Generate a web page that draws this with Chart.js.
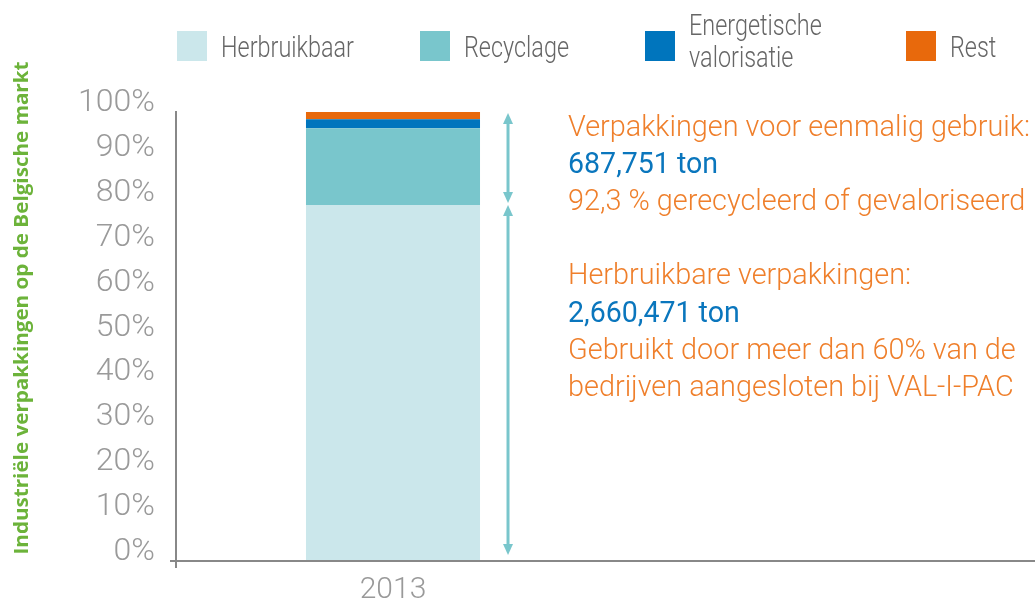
<!DOCTYPE html>
<html>
<head>
<meta charset="utf-8">
<script src="https://cdn.jsdelivr.net/npm/chart.js@4"></script>
<style>
  html, body { margin: 0; padding: 0; background: #fff; overflow: hidden; }
  #wrap { width: 1035px; height: 606px; overflow: hidden; }
</style>
</head>
<body>
<div id="wrap"><canvas id="chart" width="1044" height="606"></canvas></div>
<script>
// data
const years = ['2013', ''];
const seriesNames = ['Herbruikbaar', 'Recyclage', 'Energetische valorisatie', 'Rest'];
const herbruikbaar = [79.3];
const recyclage = [17.1];
const energetisch = [2.0];
const rest = [1.6];
const yTitle = 'Industriële verpakkingen op de Belgische markt';
const notesTop = ['Verpakkingen voor eenmalig gebruik:', '687,751 ton', '92,3 % gerecycleerd of gevaloriseerd'];
const notesBottom = ['Herbruikbare verpakkingen:', '2,660,471 ton', 'Gebruikt door meer dan 60% van de', 'bedrijven aangesloten bij VAL-I-PAC'];

const colors = ['#cbe7eb', '#79c6cc', '#0075bd', '#e8690c'];
const ORANGE = '#ef7f2b';
const BLUE = '#0a76bd';
const FONT = 'Roboto';

function drawSqueezed(ctx, text, x, y, s) {
  ctx.save();
  ctx.translate(x, y);
  ctx.scale(s, 1);
  ctx.fillText(text, 0, 0);
  ctx.restore();
}

const decor = {
  id: 'decor',
  afterDraw(chart) {
    const ctx = chart.ctx;
    const ys = chart.scales.y;
    ctx.save();

    // condensation factor taken from the legend word width
    ctx.font = `300 30px ${FONT}`;
    const squeeze = 133 / ctx.measureText('Herbruikbaar').width;
    const noteSqueeze = 462 / ctx.measureText(notesTop[0]).width;
    ctx.font = `400 30px ${FONT}`;
    const tonSqueeze = 150 / ctx.measureText(notesTop[1]).width;

    // legend
    const legendX = [177, 420, 645, 906];
    ctx.textBaseline = 'alphabetic';
    ctx.textAlign = 'left';
    seriesNames.forEach((name, i) => {
      ctx.fillStyle = colors[i];
      ctx.fillRect(legendX[i], 31, 30, 30);
      ctx.fillStyle = '#666';
      ctx.font = `300 30px ${FONT}`;
      if (name.indexOf(' ') > 0) {
        const parts = name.split(' ');
        drawSqueezed(ctx, parts[0], legendX[i] + 44, 35, squeeze);
        drawSqueezed(ctx, parts[1], legendX[i] + 44, 67, squeeze);
      } else {
        drawSqueezed(ctx, name, legendX[i] + 44, 57, squeeze);
      }
    });

    // y title
    ctx.save();
    ctx.font = `700 19px "Open Sans"`;
    ctx.fillStyle = '#6cb33a';
    ctx.translate(28, 308);
    ctx.rotate(-Math.PI / 2);
    ctx.textAlign = 'center';
    const tw = ctx.measureText(yTitle).width;
    ctx.scale(493 / tw, 1);
    ctx.fillText(yTitle, 0, 0);
    ctx.restore();

    // arrows
    const bar = chart.getDatasetMeta(0).data[0];
    const ax = bar.x + bar.width / 2 + 28;
    const yTop = ys.getPixelForValue(100);
    const yMid = ys.getPixelForValue(herbruikbaar[0]);
    const yBot = ys.getPixelForValue(0);
    ctx.strokeStyle = '#79c6cc';
    ctx.fillStyle = '#79c6cc';
    ctx.lineWidth = 3;
    function head(x, y, dir) {
      ctx.beginPath();
      ctx.moveTo(x, y);
      ctx.lineTo(x - 5, y + dir * 11);
      ctx.lineTo(x + 5, y + dir * 11);
      ctx.closePath();
      ctx.fill();
    }
    function arrow(y1, y2) {
      ctx.beginPath();
      ctx.moveTo(ax, y1 + 6);
      ctx.lineTo(ax, y2 - 6);
      ctx.stroke();
      head(ax, y1, 1);
      head(ax, y2, -1);
    }
    arrow(yTop + 1, yMid - 2);
    arrow(yMid + 0, yBot - 6);

    // notes
    const nx = ax + 60;
    const topLines = [136, 173, 210];
    const botLines = [284, 322, 359, 396];
    function note(lines, base) {
      lines.forEach((t, i) => {
        const isTon = /ton$/.test(t);
        ctx.fillStyle = isTon ? BLUE : ORANGE;
        ctx.font = (isTon ? '400' : '300') + ` 30px ${FONT}`;
        drawSqueezed(ctx, t, nx, base[i], isTon ? tonSqueeze : noteSqueeze);
      });
    }
    note(notesTop, topLines);
    note(notesBottom, botLines);

    ctx.restore();
  }
};

new Chart(document.getElementById('chart'), {
  type: 'bar',
  data: {
    labels: years,
    datasets: [
      { label: seriesNames[0], data: herbruikbaar, backgroundColor: colors[0] },
      { label: seriesNames[1], data: recyclage, backgroundColor: colors[1] },
      { label: seriesNames[2], data: energetisch, backgroundColor: colors[2] },
      { label: seriesNames[3], data: rest, backgroundColor: colors[3] }
    ]
  },
  options: {
    responsive: false,
    animation: false,
    devicePixelRatio: 1,
    layout: { padding: { top: 112, left: 0, right: 0, bottom: 0 } },
    datasets: { bar: { categoryPercentage: 1, barPercentage: 0.401, borderWidth: 0 } },
    plugins: { legend: { display: false }, tooltip: { enabled: false } },
    scales: {
      x: {
        stacked: true,
        grid: {
          drawOnChartArea: false, drawTicks: true, tickLength: 7, lineWidth: 2,
          color: c => c.index === 0 ? '#888' : 'rgba(0,0,0,0)'
        },
        border: { color: '#888', width: 2 },
        ticks: { color: '#999', font: { family: FONT, size: 30, weight: '300' }, padding: 4 },
        afterFit: s => { s.height = 45; }
      },
      y: {
        stacked: true,
        min: 0,
        max: 100,
        grid: {
          drawOnChartArea: false, drawTicks: true, tickLength: 6, lineWidth: 2,
          color: c => (c.tick && c.tick.value === 0) ? '#888' : 'rgba(0,0,0,0)'
        },
        border: { color: '#888', width: 2 },
        ticks: {
          stepSize: 10,
          callback: v => v + '%',
          color: '#9a9a9a',
          font: { family: FONT, size: 32, weight: '300' },
          padding: 15,
          labelOffset: -9
        },
        afterFit: s => { s.width = 176; }
      }
    }
  },
  plugins: [decor]
});
</script>
</body>
</html>
